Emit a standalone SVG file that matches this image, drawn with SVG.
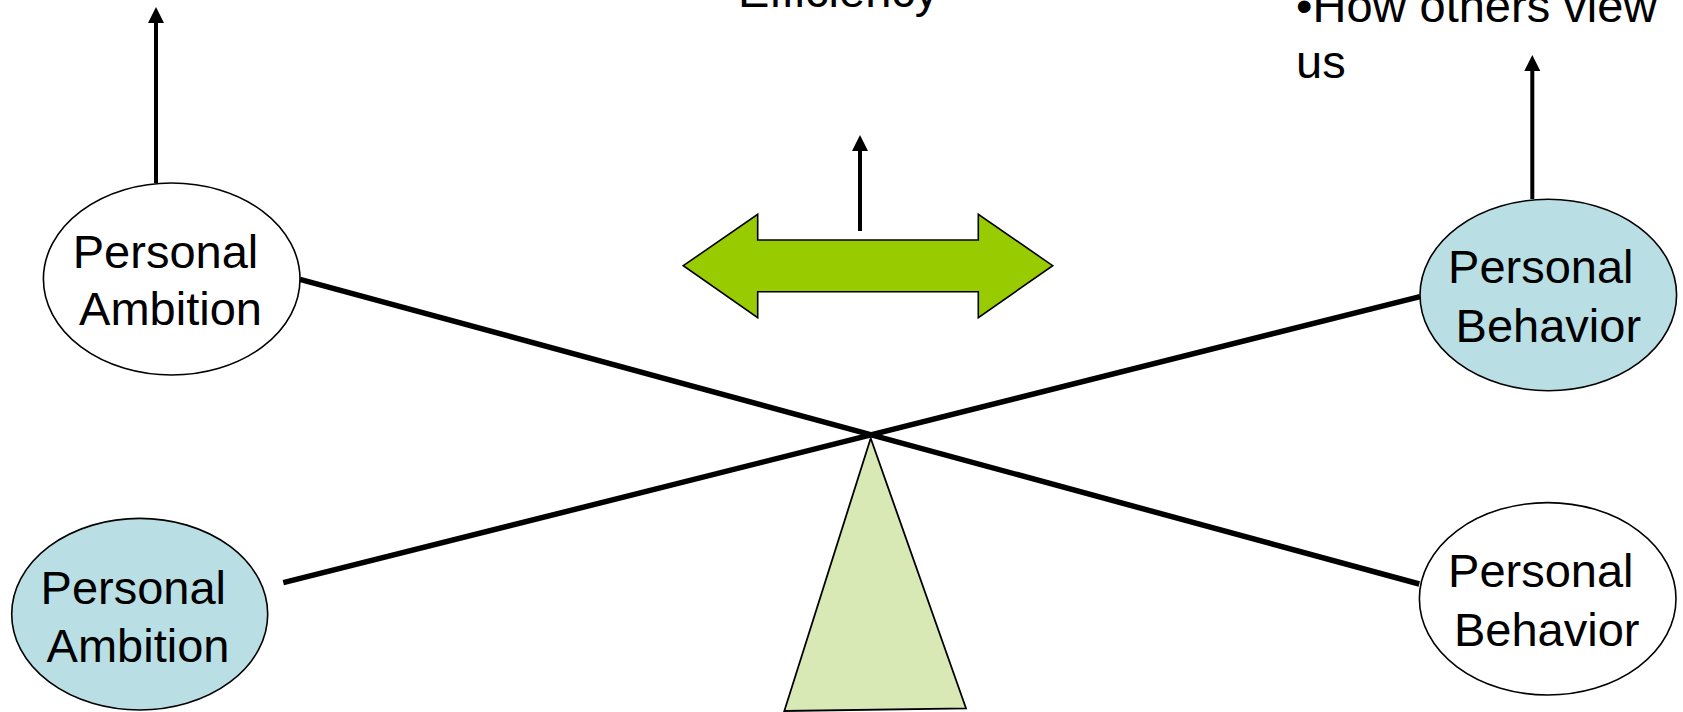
<svg xmlns="http://www.w3.org/2000/svg" width="1683" height="712" viewBox="0 0 1683 712">
<style>
.lbl{font-family:"Liberation Sans",Arial,sans-serif;font-size:47px;fill:#000}
.mid{text-anchor:middle}
.node{stroke:#000;stroke-width:1.6}
.white{fill:#fff}
.blue{fill:#B9DFE4}
.beam{stroke:#000;stroke-width:5.5;fill:none}
.up{stroke:#000;stroke-width:4;fill:none}
.head{fill:#000}
</style>
<rect width="1683" height="712" fill="#fff"/>
<g id="texts">
<text class="lbl" x="738" y="7">Efficiency</text>
<text class="lbl" x="1296" y="22">•How others view</text>
<text class="lbl" x="1296" y="78">us</text>
</g>
<g id="connectors">
<line class="beam" x1="300" y1="279.3" x2="1419.3" y2="584"/>
<line class="beam" x1="283.3" y1="582.7" x2="1420" y2="296.7"/>
<line class="up" x1="156" y1="183" x2="156" y2="22"/>
<path class="head" d="M148,23 L164,23 L156,7 Z"/>
<line class="up" x1="860" y1="231" x2="860" y2="150"/>
<path class="head" d="M852,151 L868,151 L860,135 Z"/>
<line class="up" x1="1532.3" y1="199" x2="1532.3" y2="70"/>
<path class="head" d="M1524.3,71 L1540.3,71 L1532.3,55 Z"/>
</g>
<g id="double-arrow">
<path d="M683.3,265.7 L757.7,214.3 L757.7,240 L978.3,240 L978.3,214.3 L1052.7,265.7 L978.3,317.7 L978.3,291.7 L757.7,291.7 L757.7,317.7 Z" fill="#99CC00" stroke="#000" stroke-width="1.6"/>
</g>
<g id="fulcrum">
<path d="M870.7,438.3 L966,708.3 L784.3,711 Z" fill="#D8E9B5" stroke="#000" stroke-width="1.8"/>
</g>
<g id="node-ambition-top">
<ellipse class="node white" cx="171.7" cy="279" rx="128.3" ry="96"/>
<text class="lbl mid" x="165.5" y="267.7">Personal</text>
<text class="lbl mid" x="170.5" y="325">Ambition</text>
</g>
<g id="node-ambition-bottom">
<ellipse class="node blue" cx="139.7" cy="614.2" rx="128" ry="95.8"/>
<text class="lbl mid" x="133.3" y="604.3">Personal</text>
<text class="lbl mid" x="138" y="661.7">Ambition</text>
</g>
<g id="node-behavior-top">
<ellipse class="node blue" cx="1548.3" cy="295" rx="128.3" ry="95.7"/>
<text class="lbl mid" x="1540.8" y="283.3">Personal</text>
<text class="lbl mid" x="1548.3" y="341.7">Behavior</text>
</g>
<g id="node-behavior-bottom">
<ellipse class="node white" cx="1547.7" cy="598.8" rx="128.3" ry="96.2"/>
<text class="lbl mid" x="1540.8" y="586.7">Personal</text>
<text class="lbl mid" x="1546.7" y="645.7">Behavior</text>
</g>
</svg>
